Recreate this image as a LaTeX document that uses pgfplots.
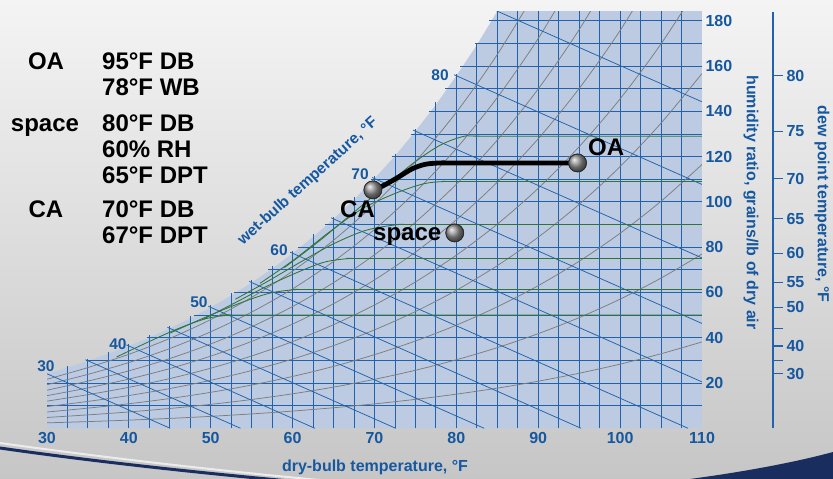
\documentclass[border=0pt]{standalone}
\usepackage{pgfplots}
\pgfplotsset{compat=1.18}
\usepackage{fontspec}
\setmainfont{Liberation Sans}
\definecolor{bgtop}{RGB}{244,244,244}
\definecolor{bgbot}{RGB}{198,198,198}
\definecolor{chartfill}{RGB}{188,203,226}
\definecolor{gridblue}{RGB}{32,98,172}
\definecolor{lblblue}{RGB}{22,88,160}
\definecolor{rhgray}{RGB}{125,125,125}
\definecolor{coilgreen}{RGB}{50,115,60}
\definecolor{navy}{RGB}{25,45,95}
\newcommand{\fs}[1]{\fontsize{#1}{#1}\selectfont}
\begin{document}
\begin{tikzpicture}[x=1pt,y=1pt]
\shade[top color=bgtop,bottom color=bgbot] (0,0) rectangle (833,479);
\fill[navy] (690,0) .. controls (750,8) and (800,18) .. (833,27) -- (833,0) -- cycle;
\draw[white!85!gray, line width=2] (0,36) .. controls (100,22) and (220,8) .. (330,-2);
\draw[navy, line width=3] (0,31) .. controls (90,18) and (200,6) .. (300,-3);

\begin{axis}[
  at={(47pt,50.7pt)}, anchor=south west, scale only axis,
  width=655pt, height=416.6pt,
  xmin=30, xmax=110, ymin=0, ymax=184,
  axis line style={draw=none}, tick style={draw=none},
  xtick={30,40,...,110}, ytick={20,40,...,180},
  yticklabel pos=right,
  ticklabel style={font=\bfseries\fs{16}, text=lblblue},
  /pgf/number format/assume math mode=true,
  clip mode=individual,
  hgrid/.style={gridblue, line width=0.9pt},
  wb/.style={gridblue, line width=0.75pt},
  rh/.style={rhgray, line width=0.75pt, smooth},
  coil/.style={coilgreen, line width=0.85pt, smooth, tension=0.5},
]
% saturation region
\addplot[draw=none, fill=chartfill] coordinates {(30,24.07)(32.5,26.8)(35,29.83)(37.5,32.93)(40,36.36)(42.5,40.06)(45,44.14)(47.5,48.56)(50,53.42)(52.5,58.64)(55,64.37)(57.5,70.53)(60,77.28)(62.5,84.54)(65,92.49)(67.5,101.0)(70,110.3)(72.5,120.3)(75,131.24)(77.5,142.95)(80,155.7)(82.5,169.3)(85,184.2)(110,184.2)} \closedcycle;
% dry-bulb grid
\addplot[ycomb, hgrid] coordinates {(32.5,27.6)(35,30.7)(37.5,33.8)(40,37.3)(42.5,41.0)(45,45.1)(47.5,49.5)(50,54.4)(52.5,59.6)(55,65.4)(57.5,71.6)(60,78.3)(62.5,85.6)(65,93.5)(67.5,102.0)(70,111.3)(72.5,121.3)(75,132.2)(77.5,144.0)(80,156.7)(82.5,170.3)(85,186)(87.5,186)(90,186)(92.5,186)(95,186)(97.5,186)(100,186)(102.5,186)(105,186)(107.5,186)};
% humidity ratio grid
\addplot[hgrid] coordinates {(30,10)(110,10)};
\addplot[hgrid] coordinates {(30,20)(110,20)};
\addplot[hgrid] coordinates {(34.8,30)(110,30)};
\addplot[hgrid] coordinates {(42.2,40)(110,40)};
\addplot[hgrid] coordinates {(47.9,50)(110,50)};
\addplot[hgrid] coordinates {(52.8,60)(110,60)};
\addplot[hgrid] coordinates {(57.0,70)(110,70)};
\addplot[hgrid] coordinates {(60.6,80)(110,80)};
\addplot[hgrid] coordinates {(63.9,90)(110,90)};
\addplot[hgrid] coordinates {(66.9,100)(110,100)};
\addplot[hgrid] coordinates {(69.6,110)(110,110)};
\addplot[hgrid] coordinates {(72.1,120)(110,120)};
\addplot[hgrid] coordinates {(74.4,130)(110,130)};
\addplot[hgrid] coordinates {(76.6,140)(110,140)};
\addplot[hgrid] coordinates {(78.6,150)(110,150)};
\addplot[hgrid] coordinates {(80.5,160)(110,160)};
\addplot[hgrid] coordinates {(82.3,170)(110,170)};
\addplot[hgrid] coordinates {(84.0,180)(110,180)};
% relative humidity curves 10%..90%
\addplot[rh] coordinates {(30,2.40)(35,2.96)(40,3.61)(45,4.37)(50,5.28)(55,6.35)(60,7.61)(65,9.08)(70,10.79)(75,12.78)(80,15.08)(85,17.74)(90,20.80)(95,24.32)(100,28.34)(105,32.93)(110,38.14)};
\addplot[rh] coordinates {(30,4.79)(35,5.93)(40,7.22)(45,8.76)(50,10.58)(55,12.72)(60,15.24)(65,18.19)(70,21.63)(75,25.63)(80,30.27)(85,35.63)(90,41.81)(95,48.90)(100,57.05)(105,66.35)(110,76.97)};
\addplot[rh] coordinates {(30,7.19)(35,8.91)(40,10.85)(45,13.15)(50,15.89)(55,19.11)(60,22.90)(65,27.34)(70,32.52)(75,38.56)(80,45.56)(85,53.66)(90,63.01)(95,73.78)(100,86.14)(105,100.3)(110,116.5)};
\addplot[rh] coordinates {(30,9.60)(35,11.88)(40,14.47)(45,17.55)(50,21.21)(55,25.52)(60,30.58)(65,36.53)(70,43.47)(75,51.57)(80,60.96)(85,71.85)(90,84.42)(95,98.92)(100,115.6)(105,134.8)(110,156.7)};
\addplot[rh] coordinates {(30,12.00)(35,14.86)(40,18.11)(45,21.96)(50,26.54)(55,31.95)(60,38.30)(65,45.77)(70,54.47)(75,64.65)(80,76.47)(85,90.18)(90,106.0)(95,124.4)(100,145.5)(105,169.8)(110,197.7)};
\addplot[rh] coordinates {(30,14.41)(35,17.85)(40,21.74)(45,26.38)(50,31.89)(55,38.39)(60,46.04)(65,55.03)(70,65.54)(75,77.81)(80,92.09)(85,108.7)(90,127.9)(95,150.1)(100,175.7)(105,205.3)};
\addplot[rh] coordinates {(30,16.82)(35,20.84)(40,25.39)(45,30.81)(50,37.26)(55,44.86)(60,53.81)(65,64.34)(70,76.66)(75,91.05)(80,107.8)(85,127.3)(90,149.9)(95,176.1)(100,206.5)};
\addplot[rh] coordinates {(30,19.24)(35,23.83)(40,29.04)(45,35.24)(50,42.63)(55,51.34)(60,61.60)(65,73.69)(70,87.83)(75,104.36)(80,123.6)(85,146.1)(90,172.2)(95,202.5)};
\addplot[rh] coordinates {(30,21.65)(35,26.83)(40,32.69)(45,39.69)(50,48.02)(55,57.85)(60,69.43)(65,83.07)(70,99.06)(75,117.77)(80,139.6)(85,165.1)(90,194.7)};
% wet-bulb lines
\addplot[wb] coordinates {(30,24.1)(45.04,0)};
\addplot[wb] coordinates {(34.7,30.3)(53.64,0)};
\addplot[wb] coordinates {(39.7,36.84)(62.73,0)};
\addplot[wb] coordinates {(44.7,44.62)(72.59,0)};
\addplot[wb] coordinates {(49.7,53.9)(83.39,0)};
\addplot[wb] coordinates {(54.7,64.85)(95.23,0)};
\addplot[wb] coordinates {(59.7,77.76)(108.30,0)};
\addplot[wb] coordinates {(64.7,92.97)(110,20.49)};
\addplot[wb] coordinates {(69.7,110.78)(110,46.3)};
\addplot[wb] coordinates {(74.7,131.72)(110,75.24)};
\addplot[wb] coordinates {(79.7,156.18)(110,107.7)};
\addplot[wb] coordinates {(84.7,184.7)(110,144.2)};
% coil process curves
\addplot[coil] coordinates {(38.5,31.5)(42,37.5)(46,44)(49.5,48.5)(52.5,50)(56,50)(110,50)};
\addplot[coil] coordinates {(45,42)(49,48.5)(53,54.5)(57,59.5)(60.5,61.3)(64,61.3)(110,61.3)};
\addplot[coil] coordinates {(49,48)(53,55.5)(57,63)(61,69.5)(64,73.5)(67,75)(70,75)(110,75)};
\addplot[coil] coordinates {(53,57)(57,65)(61,73.5)(65,81.5)(69,87.5)(73,90)(76,90)(110,90)};
\addplot[coil] coordinates {(56,64)(60,74)(64.6,87)(68.5,97)(72.7,104)(76,108)(78.5,109)(81,109)(110,109)};
\addplot[coil] coordinates {(59,71)(63,82)(67,94)(71,106)(74.7,117)(78,125)(81,129)(84,129)(110,129)};
% process line CA -> OA
\addplot[black, line width=4.8pt, smooth, tension=0.5] coordinates {(69.8,105.3)(71.2,107.4)(72.9,110.9)(74.6,114.6)(76.2,116.6)(78,117.2)(80,117.2)(94.8,117.2)};
% state points
\addplot[only marks, mark=ball, mark size=9pt, mark options={ball color=gray!85}] coordinates {(69.8,105.3)(94.8,117.2)(79.8,86.3)};
\addplot[only marks, mark=o, mark size=9pt, mark options={draw=gray!35!black, line width=0.7pt}] coordinates {(69.8,105.3)(94.8,117.2)(79.8,86.3)};
\end{axis}

% dew point axis
\begin{axis}[
  at={(772pt,50.7pt)}, anchor=south west, scale only axis,
  width=1pt, height=416.6pt,
  xmin=0, xmax=1, ymin=0, ymax=184,
  axis y line=right, hide x axis,
  every outer y axis line/.append style={-},
  every inner y axis line/.append style={-},
  y axis line style={-, gridblue, line width=1.2pt},
  ytick={24.07,29.83,36.36,44.14,53.42,64.37,77.28,92.49,110.3,131.24,155.7},
  yticklabels={30,,40,,50,55,60,65,70,75,80},
  ytick align=outside, major tick length=10pt,
  ytick style={gridblue, line width=1.2pt},
  yticklabel style={font=\bfseries\fs{16}, text=lblblue},
]
\addplot[draw=none] coordinates {(0,0)(1,1)};
\end{axis}

% axis titles
\node[anchor=base, font=\bfseries\fs{16}, text=lblblue, inner sep=0] at (375,7.5) {dry-bulb temperature, °F};
\node[rotate=-90, font=\bfseries\fs{16}, text=lblblue, inner sep=0] at (751,276.5) {humidity ratio, grains/lb of dry air};
\node[rotate=-90, font=\bfseries\fs{16}, text=lblblue, inner sep=0] at (822,275) {dew point temperature, °F};
\node[rotate=42, font=\bfseries\fs{15.5}, text=lblblue, inner sep=0] at (308,297.5) {wet-bulb temperature, °F};
% wet-bulb values
\foreach \t/\px/\py in {30/46/113, 40/118/135, 50/199/177, 60/279/229, 70/360/305, 80/440/404}
  \node[font=\bfseries\fs{15.5}, text=lblblue, inner sep=0] at (\px,\py) {\t};
% left text block
\begin{scope}[every node/.style={font=\bfseries\fs{24}, inner sep=0}]
\node[anchor=base] at (46,409) {OA};
\node[anchor=base west] at (102,409) {95°F DB};
\node[anchor=base west] at (102,383) {78°F WB};
\node[anchor=base] at (45,347) {space};
\node[anchor=base west] at (102,347) {80°F DB};
\node[anchor=base west] at (102,321) {60\% RH};
\node[anchor=base west] at (102,295) {65°F DPT};
\node[anchor=base] at (46,261) {CA};
\node[anchor=base west] at (102,261) {70°F DB};
\node[anchor=base west] at (102,235) {67°F DPT};
% point labels
\node[anchor=base west] at (588,323) {OA};
\node[anchor=base west] at (340,261) {CA};
\node[anchor=base west] at (373,238) {space};
\end{scope}
\pgfresetboundingbox
\path[use as bounding box] (0,0) rectangle (833,479);
\end{tikzpicture}
\end{document}
